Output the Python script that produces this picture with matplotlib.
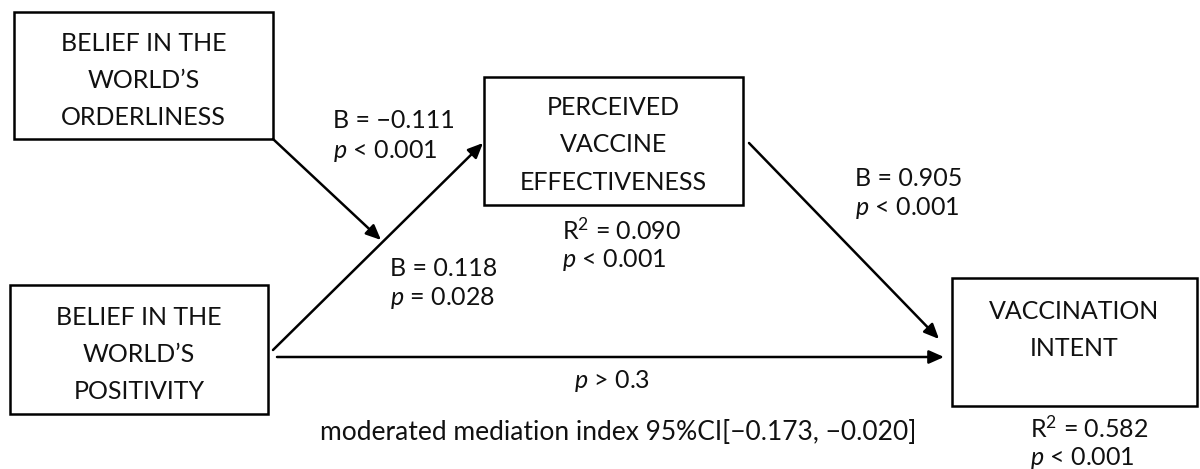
import matplotlib.pyplot as plt
from matplotlib.patches import Rectangle

plt.rcParams['font.family'] = ['Lato', 'DejaVu Sans']
plt.rcParams['mathtext.fontset'] = 'custom'
plt.rcParams['mathtext.it'] = 'Lato:italic'
plt.rcParams['mathtext.rm'] = 'Lato'

# --- data ---
box_labels = [
    "BELIEF IN THE\nWORLD\u2019S\nORDERLINESS",
    "BELIEF IN THE\nWORLD\u2019S\nPOSITIVITY",
    "PERCEIVED\nVACCINE\nEFFECTIVENESS",
    "VACCINATION\nINTENT",
]
path_B = ["\u22120.111", "0.118", "0.905"]
path_p = ["< 0.001", "= 0.028", "< 0.001"]
direct_p = "> 0.3"
r2_values = ["0.090", "0.582"]
r2_p = ["< 0.001", "< 0.001"]
ci_text = "moderated mediation index 95%CI[\u22120.173, \u22120.020]"

# box layout (x, y, w, h, text offset) in pixel coords
boxes = [(14, 12, 259, 127, 5), (10, 285, 258, 129, 5),
         (484, 77, 259, 128, 4), (952, 278, 245, 128, -12)]

fig = plt.figure(figsize=(12, 4.69), dpi=100)
ax = fig.add_axes([0, 0, 1, 1])
ax.set_xlim(0, 1200)
ax.set_ylim(469, 0)
ax.axis('off')

FS = 18
for (x, y, w, h, off), lab in zip(boxes, box_labels):
    ax.add_patch(Rectangle((x, y), w, h, fill=False, lw=1.8, ec='black'))
    ax.text(x + w / 2, y + h / 2 + off, lab, ha='center', va='center',
            fontsize=FS, linespacing=1.75, color='#111111')

def arrow(p0, p1):
    ax.annotate('', xy=p1, xytext=p0,
                arrowprops=dict(arrowstyle='-|>,head_length=0.9,head_width=0.4',
                                lw=1.8, color='black', shrinkA=0, shrinkB=0))

arrow((273, 139), (381, 240))
arrow((273, 350), (483, 143))
arrow((277, 357), (944, 357))
arrow((749, 143), (939, 339))

def stat(x, y, first, second):
    ax.text(x, y, first, ha='left', va='center', fontsize=FS, color='#111111')
    ax.text(x, y + 30, second, ha='left', va='center', fontsize=FS, color='#111111')

stat(333, 121, "B = " + path_B[0], "$p$ " + path_p[0])
stat(390, 268, "B = " + path_B[1], "$p$ " + path_p[1])
stat(855, 178, "B = " + path_B[2], "$p$ " + path_p[2])
stat(562, 230, "R$^2$ = " + r2_values[0], "$p$ " + r2_p[0])
stat(1030, 428, "R$^2$ = " + r2_values[1], "$p$ " + r2_p[1])

ax.text(612, 381, "$p$ " + direct_p, ha='center', va='center', fontsize=FS, color='#111111')
ax.text(320, 433, ci_text, ha='left', va='center', fontsize=FS + 1, color='#111111')

fig.savefig('out.png', dpi=100, facecolor='white')
